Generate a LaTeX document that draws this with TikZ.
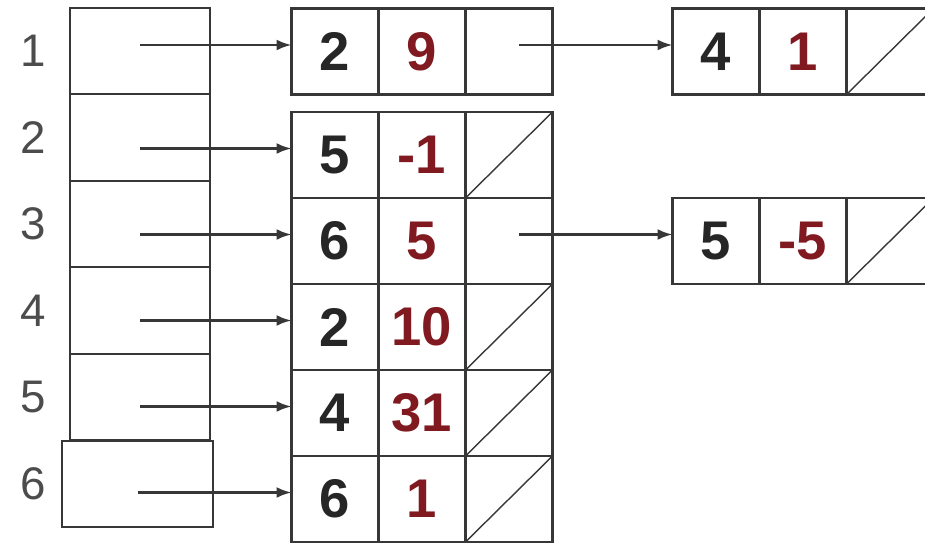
\documentclass[tikz,border=0pt]{standalone}
\usepackage{fontspec}
\setmainfont{Liberation Sans}
\usetikzlibrary{positioning,arrows.meta,calc}
\definecolor{numred}{RGB}{128,26,32}
\definecolor{edgegray}{RGB}{55,55,55}
\tikzset{
list/.style={draw=edgegray,line width=1.3pt,inner sep=0pt,outer sep=0pt,node distance=0pt},
head/.style={list,minimum width=2.8cm,minimum height=1.73cm},
cell/.style={list,minimum width=1.74cm,minimum height=1.72cm,
font=\fontsize{31}{36}\selectfont\bfseries,text=black!85},
weight/.style={cell,text=numred},
index/.style={font=\fontsize{26}{30}\selectfont,text=black!70},
nil/.style={draw=edgegray,line width=0.8pt},
ptr/.style={-{Latex[length=0.3cm,width=0.22cm]},draw=edgegray,line width=1.4pt}
}

\begin{document}
\begin{tikzpicture}[label distance=0.35cm]
\useasboundingbox (0,0) rectangle (18.5,10.84);

% head array
\node[head] (h1) at (2.8,9.82) [label={[index]left:1}] {};
\node[head] (h2) [label={[index]left:2},below=0pt of h1] {};
\node[head] (h3) [label={[index]left:3},below=0pt of h2] {};
\node[head] (h4) [label={[index]left:4},below=0pt of h3] {};
\node[head] (h5) [label={[index]left:5},below=0pt of h4] {};
\node[head,minimum width=3.02cm] (h6) at (2.75,1.16)
  [label={[index,label distance=0.2cm]left:6}] {};

% first list nodes
\node[cell] (k1) at (6.7,9.81) {2};
\node[weight] (v1) [right=of k1] {9};
\node[cell] (p1) [right=of v1] {};

\node[cell] (k2) at (6.7,7.74) {5};
\node[weight] (v2) [right=of k2] {-1};
\node[cell] (p2) [right=of v2] {};

\node[cell] (k3) [below=of k2] {6};
\node[weight] (v3) [right=of k3] {5};
\node[cell] (p3) [right=of v3] {};

\node[cell] (k4) [below=of k3] {2};
\node[weight] (v4) [right=of k4] {10};
\node[cell] (p4) [right=of v4] {};

\node[cell] (k5) [below=of k4] {4};
\node[weight] (v5) [right=of k5] {31};
\node[cell] (p5) [right=of v5] {};

\node[cell] (k6) [below=of k5] {6};
\node[weight] (v6) [right=of k6] {1};
\node[cell] (p6) [right=of v6] {};

% second list nodes
\node[cell] (x1) at (14.32,9.81) {4};
\node[weight] (y1) [right=of x1] {1};
\node[cell] (q1) [right=of y1] {};

\node[cell] (x3) at (14.32,6.02) {5};
\node[weight] (y3) [right=of x3] {-5};
\node[cell] (q3) [right=of y3] {};

% null pointers
\foreach \n in {p2,p4,p5,p6,q1,q3}
  \draw[nil] (\n.south west) -- (\n.north east);

% pointers
\foreach \i in {1,...,6}
  \draw[ptr] ($(h\i.center |- k\i.west)+(0,0.13)$) -- ($(k\i.west)+(0,0.13)$);
\draw[ptr] ($(p1.center)+(0.2,0.13)$) -- ($(x1.west)+(0,0.13)$);
\draw[ptr] ($(p3.center)+(0.2,0.13)$) -- ($(x3.west)+(0,0.13)$);

\end{tikzpicture}
\end{document}
